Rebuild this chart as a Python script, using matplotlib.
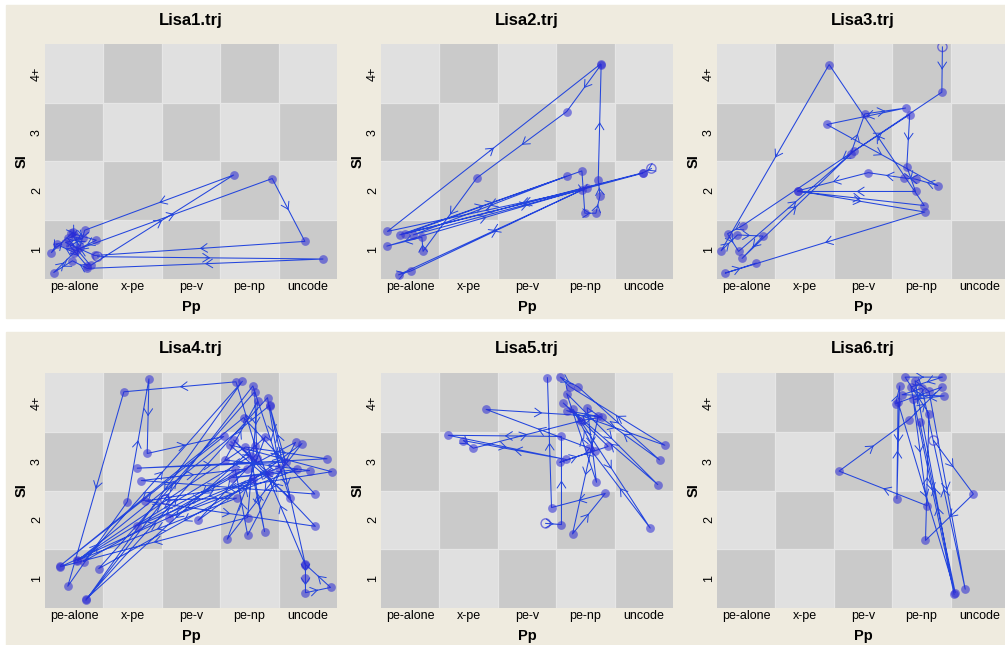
import matplotlib
matplotlib.use('Agg')
import matplotlib.pyplot as plt
from matplotlib.patches import Rectangle, FancyArrowPatch

plt.rcParams['font.family'] = ['Liberation Sans', 'DejaVu Sans']

pp_labels = ['pe-alone', 'x-pe', 'pe-v', 'pe-np', 'uncode']
si_labels = ['1', '2', '3', '4+']
titles = ['Lisa1.trj', 'Lisa2.trj', 'Lisa3.trj', 'Lisa4.trj', 'Lisa5.trj', 'Lisa6.trj']

# trajectories: first point is the start (open circle)
lisa1_pp = [1.40, 5.26, 1.22, 0.97, 0.65, 1.00, 0.70, 0.61, 0.98, 1.02, 0.89, 1.28, 3.73,
            1.18, 1.10, 0.95, 1.38, 1.05, 4.39, 4.95, 1.35, 0.85, 1.15, 0.93, 1.22]
lisa1_si = [0.88, 0.84, 0.68, 0.81, 0.61, 0.95, 1.09, 0.95, 1.30, 1.24, 1.19, 0.73, 2.27,
            1.33, 1.05, 1.28, 1.16, 1.00, 2.21, 1.14, 0.90, 1.12, 1.20, 1.06, 0.72]

lisa2_pp = [5.13, 4.99, 0.82, 3.68, 1.05, 4.98, 0.91, 3.94, 3.99, 4.18, 4.25, 4.22, 4.27,
            3.68, 2.14, 1.22, 1.20, 0.60, 4.02, 0.80, 1.02, 3.95, 0.61, 4.26]
lisa2_si = [2.38, 2.31, 1.25, 2.25, 1.25, 2.30, 1.27, 2.34, 1.62, 1.62, 1.92, 2.19, 4.15,
            3.35, 2.22, 0.97, 1.21, 1.06, 2.05, 0.57, 0.64, 2.02, 1.31, 4.16]

lisa3_pp = [4.36, 4.35, 0.94, 0.68, 0.87, 2.85, 3.80, 3.75, 3.90, 1.88, 4.05, 2.42, 0.57, 0.85,
            1.29, 0.93, 2.79, 3.03, 3.73, 2.38, 4.28, 3.90, 3.70, 3.09, 1.88, 4.06, 0.64, 1.17]
lisa3_si = [4.45, 3.68, 1.41, 1.27, 0.97, 2.68, 3.30, 2.41, 1.99, 1.99, 1.75, 4.15, 0.98, 1.25,
            1.23, 0.85, 2.63, 3.31, 3.41, 3.13, 2.09, 2.20, 2.22, 2.31, 2.00, 1.64, 0.60, 0.77]

lisa4_pp = [2.56, 3.78, 1.05, 3.93, 5.33, 2.08, 4.62, 4.35, 4.96, 4.96, 4.96, 5.39, 4.95, 4.10,
            3.77, 1.85, 0.89, 1.91, 2.28, 2.25, 3.56, 0.76, 3.90, 5.12, 2.15, 3.96, 1.16, 3.88,
            1.20, 4.06, 4.69, 3.66, 5.41, 2.22, 5.13, 3.73, 4.33, 1.42, 4.09, 4.13, 3.12, 4.90,
            3.62, 4.27, 1.20, 4.31, 4.51, 2.08, 4.79, 3.97, 3.76, 2.62, 4.82, 3.70, 5.03, 3.58,
            4.14, 3.97, 0.76, 4.07, 4.26, 4.02, 1.05, 4.35]
lisa4_si = [2.34, 2.37, 1.31, 3.24, 3.04, 2.88, 2.98, 3.93, 1.23, 1.01, 0.76, 0.85, 1.25, 3.25,
            4.35, 4.18, 0.87, 2.31, 4.40, 3.13, 3.42, 1.22, 3.74, 2.44, 2.67, 2.87, 1.29, 4.36,
            0.63, 4.28, 2.38, 3.28, 2.82, 2.32, 1.89, 3.36, 2.79, 1.17, 4.18, 3.05, 1.99, 3.30,
            1.67, 3.41, 0.65, 4.08, 2.89, 1.90, 3.32, 1.74, 2.85, 2.04, 2.86, 2.72, 2.84, 3.02,
            4.02, 2.04, 1.20, 2.69, 1.80, 3.09, 1.30, 3.95]

lisa5_pp = [3.32, 3.59, 3.59, 1.65, 3.66, 1.91, 2.08, 3.93, 4.28, 3.68, 5.36, 3.73, 3.57, 3.88,
            5.27, 4.03, 4.19, 3.68, 5.24, 3.62, 4.39, 3.56, 4.16, 3.79, 5.11, 4.07, 2.30, 4.22,
            3.78, 4.34, 3.42, 3.35]
lisa5_si = [1.94, 1.92, 3.42, 3.44, 3.03, 3.35, 3.22, 3.69, 3.75, 3.86, 3.27, 4.27, 4.43, 4.26,
            3.02, 3.91, 2.64, 4.15, 2.60, 3.99, 3.25, 2.98, 3.18, 3.88, 1.86, 3.22, 3.88, 3.76,
            1.76, 2.45, 2.21, 4.42]

lisa6_pp = [4.21, 4.89, 4.07, 4.13, 3.72, 4.36, 3.82, 4.56, 3.89, 4.13, 4.75, 4.01, 3.67,
            4.39, 3.86, 4.10, 2.59, 3.78, 4.35, 3.56, 3.63, 3.58, 3.60, 4.58, 3.97]
lisa6_si = [3.35, 2.44, 1.65, 3.81, 4.43, 4.43, 4.26, 0.73, 4.37, 4.19, 0.82, 4.24, 4.13,
            4.11, 4.05, 2.24, 2.83, 3.70, 4.26, 3.98, 4.28, 2.36, 4.00, 0.76, 3.67]

trajs = [(lisa1_pp, lisa1_si), (lisa2_pp, lisa2_si), (lisa3_pp, lisa3_si),
         (lisa4_pp, lisa4_si), (lisa5_pp, lisa5_si), (lisa6_pp, lisa6_si)]

W, H = 1005, 645
fig = plt.figure(figsize=(W / 100, H / 100), dpi=100)
fig.patch.set_facecolor('white')

beige = '#efebdf'
dark = '#cacaca'
light = '#e0e0e0'
line_col = '#2345dd'
pt_col = '#2b2bd6'

# panel backgrounds
fig.add_artist(Rectangle((6 / W, 1 - 318 / H), (W - 6) / W, 313 / H,
                         transform=fig.transFigure, color=beige, zorder=0))
fig.add_artist(Rectangle((6 / W, 0), (W - 6) / W, 1 - 332 / H,
                         transform=fig.transFigure, color=beige, zorder=0))

lefts = [45, 381, 717]
tops = [44, 373]
gw, gh = 292, 235

for k in range(6):
    left = lefts[k % 3]
    top = tops[k // 3]
    ax = fig.add_axes([left / W, 1 - (top + gh) / H, gw / W, gh / H])
    ax.set_xlim(0.5, 5.5)
    ax.set_ylim(0.5, 4.5)
    for s in ax.spines.values():
        s.set_visible(False)
    ax.set_facecolor(light)

    for i in range(5):
        for j in range(4):
            c = dark if (i + j) % 2 == 0 else light
            ax.add_patch(Rectangle((i + 0.5, j + 0.5), 1, 1, color=c, lw=0, zorder=0))
    for v in [1.5, 2.5, 3.5, 4.5]:
        ax.axvline(v, color='#e6e6e6', lw=0.9, zorder=1)
    for v in [1.5, 2.5, 3.5]:
        ax.axhline(v, color='#e6e6e6', lw=0.9, zorder=1)

    ax.set_xticks(range(1, 6))
    ax.set_xticklabels(pp_labels, fontsize=9)
    ax.set_yticks(range(1, 5))
    ax.set_yticklabels(si_labels, fontsize=9, rotation=90, va='center')
    ax.tick_params(length=0, pad=1.5)

    xs, ys = trajs[k]
    ax.plot(xs, ys, color=line_col, lw=0.75, zorder=3)
    for n in range(len(xs) - 1):
        x0, y0, x1, y1 = xs[n], ys[n], xs[n + 1], ys[n + 1]
        mx, my = (x0 + x1) / 2, (y0 + y1) / 2
        ar = FancyArrowPatch((mx - 0.02 * (x1 - x0), my - 0.02 * (y1 - y0)), (mx, my),
                             arrowstyle='->,head_length=0.4,head_width=0.26',
                             mutation_scale=12, shrinkA=0, shrinkB=0,
                             color=line_col, lw=0.7, zorder=3)
        ax.add_patch(ar)
    ax.scatter(xs[1:], ys[1:], s=40, color=pt_col, alpha=0.55, lw=0, zorder=4)
    ax.scatter(xs[:1], ys[:1], s=44, facecolors='none', edgecolors=pt_col,
               alpha=0.6, lw=1, zorder=4)

    cx = (left + gw / 2) / W
    fig.text(cx, 1 - (top - 24) / H, titles[k], ha='center', va='center',
             fontsize=12, fontweight='bold')
    fig.text(cx, 1 - (top + 263) / H, 'Pp', ha='center', va='center',
             fontsize=10.5, fontweight='bold')
    fig.text((left - 23) / W, 1 - (top + gh / 2) / H, 'SI', ha='center', va='center',
             fontsize=10.5, fontweight='bold', rotation=90)

fig.savefig('out.png', dpi=100)
